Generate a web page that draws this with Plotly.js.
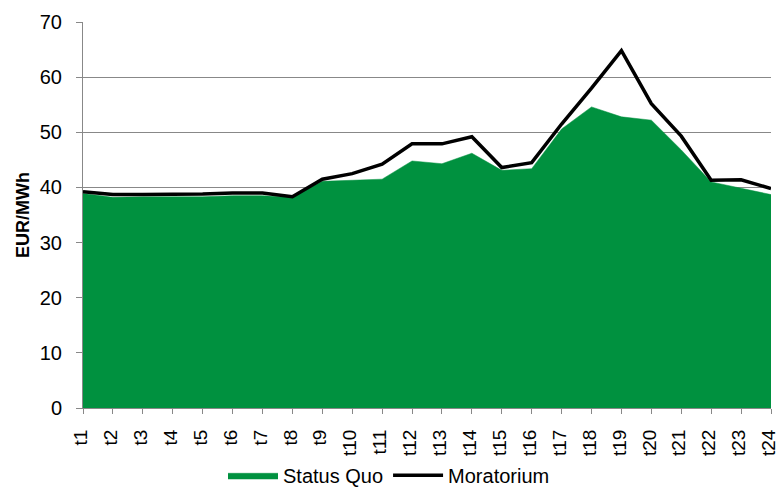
<!DOCTYPE html>
<html><head><meta charset="utf-8">
<script src="https://cdn.plot.ly/plotly-3.0.1.min.js"></script>
<style>html,body{margin:0;padding:0;background:#fff}</style>
</head><body><div id="chart" style="width:778px;height:491px"></div>
<script>
const categories = ["t1","t2","t3","t4","t5","t6","t7","t8","t9","t10","t11","t12","t13","t14","t15","t16","t17","t18","t19","t20","t21","t22","t23","t24"];
const statusQuo = [38.9,38.2,38.3,38.3,38.3,38.5,38.5,38.2,41.1,41.3,41.5,44.8,44.3,46.2,43.1,43.4,50.6,54.6,52.8,52.2,46.8,41.0,39.8,38.7];
const moratorium = [39.2,38.7,38.7,38.7,38.8,39.0,39.0,38.3,41.5,42.5,44.2,47.9,47.9,49.2,43.6,44.5,51.5,58.0,64.8,55.2,49.3,41.3,41.4,39.8];
const yTicks = [0,10,20,30,40,50,60,70];

const traces = [
  {x: categories, y: statusQuo, name: "Status Quo", type: "scatter", mode: "lines",
   fill: "tozeroy", fillcolor: "#00913f", line: {color: "#00913f", width: 0.5}},
  {x: categories, y: moratorium, name: "Moratorium", type: "scatter", mode: "lines",
   line: {color: "#000000", width: 3.5}}
];
const layout = {
  width: 778, height: 491,
  margin: {l: 83, r: 7, t: 22, b: 83},
  paper_bgcolor: "#fff", plot_bgcolor: "#fff",
  font: {family: "Liberation Sans, Arial, sans-serif", size: 20, color: "#000"},
  xaxis: {type: "category", range: [0, 23], tickangle: -90, showgrid: false, automargin: false,
          showline: true, linecolor: "#888", linewidth: 1,
          ticks: "outside", ticklen: 5, tickcolor: "#888", ticklabelstandoff: 8, ticklabelshift: -2,
          tickfont: {size: 19}},
  yaxis: {range: [0, 70], tickvals: yTicks, showgrid: true, gridcolor: "#888", gridwidth: 1,
          showline: true, linecolor: "#888", linewidth: 1, zeroline: false, automargin: false,
          ticks: "outside", ticklen: 6, tickcolor: "#888", ticklabelstandoff: 10,
          tickfont: {size: 20},
          title: {text: "\u00A0\u00A0\u00A0\u00A0<b>EUR/MWh</b>", font: {size: 18}, standoff: 5}},
  legend: {orientation: "h", xref: "container", yref: "container",
           x: 0.5, xanchor: "center", y: 0.032, yanchor: "middle",
           font: {size: 20}, traceorder: "normal", itemwidth: 50},
  showlegend: true
};
Plotly.newPlot("chart", traces, layout, {displayModeBar: false, staticPlot: true});
</script></body></html>
